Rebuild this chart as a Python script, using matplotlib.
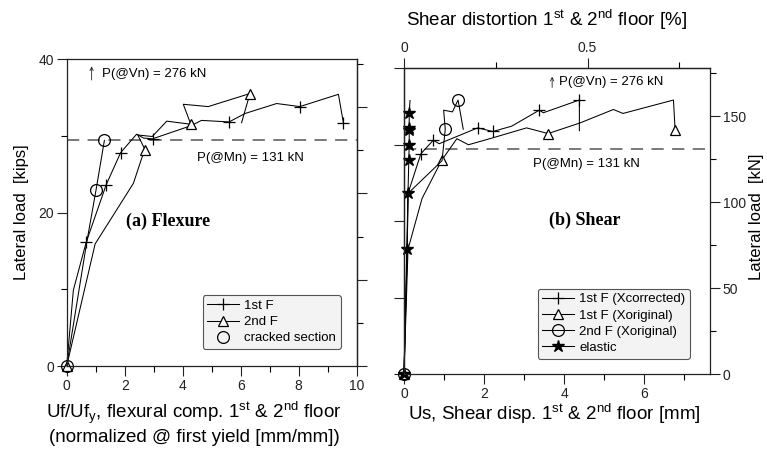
import matplotlib
matplotlib.use("Agg")
import matplotlib.pyplot as plt
from matplotlib.lines import Line2D
from matplotlib.ticker import NullFormatter

plt.rcParams['font.family'] = ['Liberation Sans', 'DejaVu Sans']
plt.rcParams['mathtext.fontset'] = 'custom'
plt.rcParams['mathtext.rm'] = 'Liberation Sans'
plt.rcParams['mathtext.it'] = 'Liberation Sans:italic'

KN_PER_KIP = 4.448
STORY_MM = 917.0

# ---------------- (a) Flexure : Uf/Ufy vs lateral load [kips] ----------------
flex_1st_x = [0, 0.23, 0.67, 1.36, 1.86, 2.41, 2.65, 2.96, 4.28, 4.65, 5.60, 6.15, 7.24, 8.04, 9.37, 9.54]
flex_1st_y = [0, 9.9, 16.1, 23.6, 27.8, 30.2, 29.7, 29.6, 31.3, 32.0, 31.8, 32.9, 34.2, 33.8, 35.4, 31.7]
flex_1st_marks = [2, 3, 4, 7, 10, 13, 15]

flex_2nd_x = [0, 0.98, 2.30, 2.58, 2.70, 2.45, 2.95, 3.45, 4.28, 4.02, 4.88, 6.32, 6.03]
flex_2nd_y = [0, 15.9, 23.8, 27.0, 28.2, 30.1, 29.9, 31.9, 31.5, 34.1, 33.8, 35.5, 31.7]
flex_2nd_marks = [0, 4, 8, 11]

cracked_x = [0, 0.69, 1.01, 1.30]
cracked_y = [0, 16.1, 22.9, 29.4]
cracked_marks = [0, 2, 3]

# ---------------- (b) Shear : Us [mm] vs lateral load [kN] ----------------
sh_corr_x = [0, 0.08, 0.10, 0.42, 0.73, 0.88, 1.84, 2.22, 2.69, 3.38, 3.48, 4.38, 4.38]
sh_corr_y = [0, 72, 105, 128, 135.9, 133.9, 143.1, 141.0, 144.1, 153.4, 151.9, 159.3, 141.5]
sh_corr_marks = [3, 4, 6, 7, 9, 11]

sh_orig_x = [0, 0.10, 0.45, 0.94, 1.32, 1.61, 2.14, 3.06, 3.60, 4.40, 5.23, 5.47, 6.73, 6.77]
sh_orig_y = [0, 72.5, 102, 124.2, 136.8, 133.3, 136.8, 143.1, 139.8, 146.0, 153.8, 151.5, 159.3, 142.1]
sh_orig_marks = [0, 3, 8, 13]

sh_2nd_x = [0, 0.08, 0.10, 0.95, 1.03, 0.99, 1.21, 1.35, 1.48]
sh_2nd_y = [0, 72, 105, 124, 142.3, 153.4, 152.4, 159.3, 142.3]
sh_2nd_marks = [0, 4, 7]

sh_el_x = [0, 0.07, 0.10, 0.12, 0.13, 0.13, 0.13, 0.13, 0.15]
sh_el_y = [0, 72.5, 105.3, 124.6, 133.3, 141.7, 143.1, 151.5, 159.0]
sh_el_marks = [0, 1, 2, 3, 4, 5, 6, 7]

MN_KN = 131
VN_KN = 276

fig = plt.figure(figsize=(7.67, 4.50), dpi=100)
W, H = 767.0, 450.0

line_kw = dict(color='black', lw=0.75, clip_on=False)
plus_kw = dict(marker='+', ms=9, mew=0.9)
tri_kw = dict(marker='^', ms=7, mfc='white', mec='black', mew=0.9)
circ_kw = dict(marker='o', ms=8.5, mfc='none', mec='black', mew=0.9)
star_kw = dict(marker='*', ms=9, mfc='black', mec='black')


def style_ticks(ax):
    ax.tick_params(which='major', direction='out', length=7, width=0.8,
                   labelsize=10, colors='#222222', pad=2)
    ax.tick_params(which='minor', direction='out', length=4.5, width=0.8)
    for s in ax.spines.values():
        s.set_linewidth(0.9)
        s.set_color('#222222')


# ---- panel (a)
ax1 = fig.add_axes([66.7 / W, 84 / H, 290 / W, 307 / H])
ax1.set_xlim(0, 10)
ax1.set_ylim(0, 40)
ax1.plot(flex_1st_x, flex_1st_y, markevery=flex_1st_marks, **line_kw, **plus_kw)
ax1.plot(flex_2nd_x, flex_2nd_y, markevery=flex_2nd_marks, **line_kw, **tri_kw)
ax1.plot(cracked_x, cracked_y, markevery=cracked_marks, **line_kw, **circ_kw)
ax1.axhline(MN_KN / KN_PER_KIP, color='#555555', lw=1.1, dashes=(8, 5.5), zorder=1)

ax1.set_xticks([0, 2, 4, 6, 8, 10])
ax1.set_xticks([1, 3, 5, 7, 9], minor=True)
ax1.set_yticks([0, 20, 40])
ax1.set_yticks([10, 30], minor=True)
style_ticks(ax1)

sec1 = ax1.secondary_yaxis('right', functions=(lambda k: k * KN_PER_KIP,
                                               lambda n: n / KN_PER_KIP))
sec1.set_yticks([0, 50, 100, 150])
sec1.set_yticks([25, 75, 125, 175], minor=True)
sec1.yaxis.set_major_formatter(NullFormatter())
style_ticks(sec1)

ax1.annotate('', xy=(0.86, 39.4), xytext=(0.86, 36.9),
             arrowprops=dict(arrowstyle='->', lw=0.6, color='#222222',
                             mutation_scale=6))
ax1.text(1.2, 38.1, f'P(@Vn) = {VN_KN} kN', fontsize=9.5, va='center', ha='left')
ax1.text(4.48, 27.1, f'P(@Mn) = {MN_KN} kN', fontsize=9.5, va='center', ha='left')
ax1.text(2.06, 18.8, '(a) Flexure', fontsize=13, fontweight='bold',
         family='Liberation Serif', va='center', ha='left')

h1 = [Line2D([], [], color='black', lw=0.75, **plus_kw),
      Line2D([], [], color='black', lw=0.75, **tri_kw),
      Line2D([], [], ls='none', **circ_kw)]
leg1 = ax1.legend(h1, ['1st F', '2nd F', 'cracked section'], loc='lower right',
                  bbox_to_anchor=(0.945, 0.055), fontsize=9.5, labelspacing=0.3,
                  handlelength=2.4, handletextpad=0.4, borderpad=0.35,
                  borderaxespad=0, fancybox=True, framealpha=1,
                  facecolor='#f3f3f3', edgecolor='#555555')
leg1.get_frame().set_linewidth(0.8)

fig.text(22 / W, 1 - 212 / H, 'Lateral load  [kips]', fontsize=12,
         rotation=90, ha='center', va='center')
fig.text(194 / W, 1 - 413 / H,
         'Uf/Uf$_{\\mathrm{y}}$, flexural comp. 1$^{\\mathrm{st}}$ & 2$^{\\mathrm{nd}}$ floor',
         fontsize=13.5, ha='center', va='center')
fig.text(194 / W, 1 - 437 / H, '(normalized @ first yield [mm/mm])',
         fontsize=13.5, ha='center', va='center')

# ---- panel (b)
ax2 = fig.add_axes([404 / W, 76 / H, 306 / W, 306 / H])
ax2.set_xlim(0, 306 / 40.04)
ax2.set_ylim(0, 40 * KN_PER_KIP)
ax2.plot(sh_corr_x, sh_corr_y, markevery=sh_corr_marks, **line_kw, **plus_kw)
ax2.plot(sh_orig_x, sh_orig_y, markevery=sh_orig_marks, **line_kw, **tri_kw)
ax2.plot(sh_2nd_x, sh_2nd_y, markevery=sh_2nd_marks, **line_kw, **circ_kw)
ax2.plot(sh_el_x, sh_el_y, markevery=sh_el_marks, **line_kw, **star_kw)
ax2.axhline(MN_KN, color='#555555', lw=1.1, dashes=(8, 5.5), zorder=1)

ax2.set_xticks([0, 2, 4, 6])
ax2.set_xticks([1, 3, 5, 7], minor=True)
ax2.yaxis.tick_right()
ax2.set_yticks([0, 50, 100, 150])
ax2.set_yticks([25, 75, 125, 175], minor=True)
style_ticks(ax2)

sec2y = ax2.secondary_yaxis('left', functions=(lambda n: n / KN_PER_KIP,
                                               lambda k: k * KN_PER_KIP))
sec2y.set_yticks([0, 10, 20, 30, 40])
sec2y.yaxis.set_major_formatter(NullFormatter())
style_ticks(sec2y)

sec2x = ax2.secondary_xaxis('top', functions=(lambda mm: mm / STORY_MM * 100,
                                              lambda p: p * STORY_MM / 100))
sec2x.set_xticks([0, 0.5])
sec2x.set_xticks([0.25, 0.75], minor=True)
sec2x.set_xticklabels(['0', '0.5'])
style_ticks(sec2x)

fig.text(757 / W, 1 - 217 / H, 'Lateral load  [kN]', fontsize=12,
         rotation=90, ha='center', va='center')
fig.text(554 / W, 1 - 414 / H,
         'Us, Shear disp. 1$^{\\mathrm{st}}$ & 2$^{\\mathrm{nd}}$ floor [mm]',
         fontsize=13.5, ha='center', va='center')
fig.text(547 / W, 1 - 20 / H,
         'Shear distortion 1$^{\\mathrm{st}}$ & 2$^{\\mathrm{nd}}$ floor [%]',
         fontsize=13.5, ha='center', va='center')

ax2.annotate('', xy=(3.70, 174.5), xytext=(3.70, 165.0),
             arrowprops=dict(arrowstyle='->', lw=0.6, color='#222222',
                             mutation_scale=6))
ax2.text(3.88, 170, f'P(@Vn) = {VN_KN} kN', fontsize=9.5, va='center', ha='left')
ax2.text(3.23, 122.2, f'P(@Mn) = {MN_KN} kN', fontsize=9.5, va='center', ha='left')
ax2.text(3.62, 89.6, '(b) Shear', fontsize=13, fontweight='bold',
         family='Liberation Serif', va='center', ha='left')

h2 = [Line2D([], [], color='black', lw=0.75, **plus_kw),
      Line2D([], [], color='black', lw=0.75, **tri_kw),
      Line2D([], [], color='black', lw=0.75, **circ_kw),
      Line2D([], [], color='black', lw=0.75, **star_kw)]
leg2 = ax2.legend(h2, ['1st F (Xcorrected)', '1st F (Xoriginal)', '2nd F (Xoriginal)', 'elastic'],
                  loc='lower right', bbox_to_anchor=(0.935, 0.05), fontsize=9.5,
                  labelspacing=0.3, handlelength=2.4, handletextpad=0.4,
                  borderpad=0.35, borderaxespad=0, fancybox=True, framealpha=1,
                  facecolor='#f3f3f3', edgecolor='#555555')
leg2.get_frame().set_linewidth(0.8)

fig.savefig('out.png', dpi=100)
